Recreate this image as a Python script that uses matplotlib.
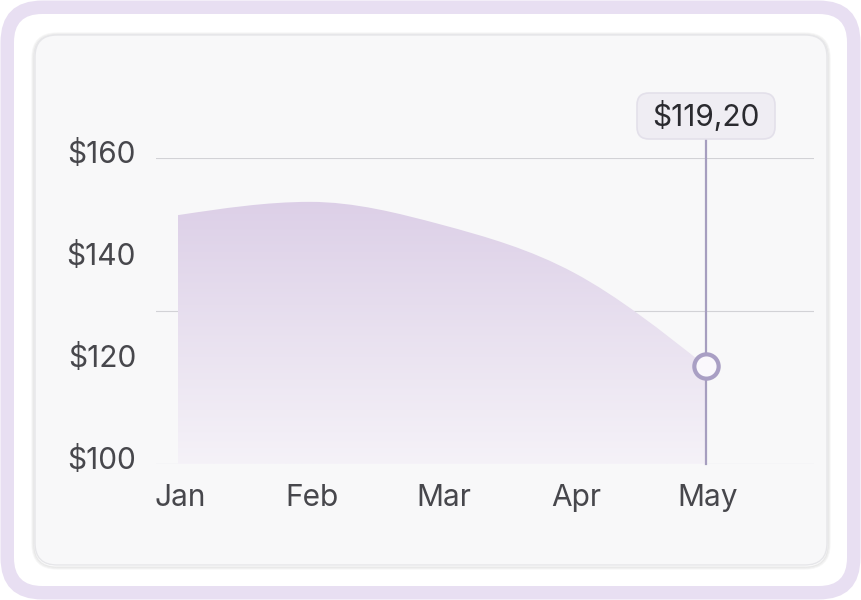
import numpy as np
import matplotlib
matplotlib.use("Agg")
import matplotlib.pyplot as plt
from matplotlib.patches import FancyBboxPatch, PathPatch
from matplotlib.path import Path
from matplotlib.colors import LinearSegmentedColormap

plt.rcParams['font.family'] = ['Inter', 'DejaVu Sans']

months = ['Jan', 'Feb', 'Mar', 'Apr', 'May']
prices = [148.8, 151.4, 146.9, 137.5, 119.2]
ytick_vals = [100, 120, 140, 160]
ytick_labels = ['$100', '$120', '$140', '$160']
grid_vals = [100, 130, 160]
tooltip_label = '$119,20'

W, H = 861, 600
fig = plt.figure(figsize=(W / 100, H / 100), dpi=100, facecolor='white')

# background frame in pixel coordinates
bg = fig.add_axes([0, 0, 1, 1])
bg.set_xlim(0, W)
bg.set_ylim(H, 0)
bg.axis('off')
bg.add_patch(FancyBboxPatch((0.5, 0.5), W - 1, H - 1, boxstyle='round,pad=0,rounding_size=42',
                            fc='#E8DFF2', ec='none'))
bg.add_patch(FancyBboxPatch((14, 14), W - 28, H - 28, boxstyle='round,pad=0,rounding_size=28',
                            fc='white', ec='none'))
for grow, a in [(3, 0.03), (2, 0.05), (1, 0.07)]:
    bg.add_patch(FancyBboxPatch((35 - grow, 35 - grow + 1), 792 + 2 * grow, 530 + 2 * grow,
                                boxstyle='round,pad=0,rounding_size=%d' % (22 + grow),
                                fc='none', ec=(0, 0, 0, a), lw=1))
bg.add_patch(FancyBboxPatch((35, 35), 792, 530, boxstyle='round,pad=0,rounding_size=22',
                            fc='#F8F8F9', ec='#E6E6E9', lw=1))

# main chart axes
left, right, top, bottom = 156, 814, 158, 464
ax = fig.add_axes([left / W, (H - bottom) / H, (right - left) / W, (bottom - top) / H])
ax.set_facecolor('none')
x = np.arange(len(months), dtype=float)
ax.set_xlim(-22 / 132, 4 + 108 / 132)
ax.set_ylim(100, 160)
for s in ax.spines.values():
    s.set_visible(False)
ax.set_xticks([])
ax.set_yticks([])

for g in grid_vals:
    ax.axhline(g, color='#D2D2D6', lw=0.8, zorder=1)

# monotone cubic curve (d3 monotoneX style) built as bezier path
y = np.array(prices)
h = np.diff(x)
s = np.diff(y) / h
m = np.zeros(len(x))
for i in range(1, len(x) - 1):
    p = (s[i - 1] * h[i] + s[i] * h[i - 1]) / (h[i - 1] + h[i])
    m[i] = (np.sign(s[i - 1]) + np.sign(s[i])) * min(abs(s[i - 1]), abs(s[i]), 0.5 * abs(p))
m[0] = (3 * s[0] - m[1]) / 2
m[-1] = (3 * s[-1] - m[-2]) / 2

verts = [(x[0], 100), (x[0], y[0])]
codes = [Path.MOVETO, Path.LINETO]
for i in range(len(x) - 1):
    dx = h[i] / 3
    verts += [(x[i] + dx, y[i] + dx * m[i]), (x[i + 1] - dx, y[i + 1] - dx * m[i + 1]), (x[i + 1], y[i + 1])]
    codes += [Path.CURVE4] * 3
verts += [(x[-1], 100), (x[0], 100)]
codes += [Path.LINETO, Path.CLOSEPOLY]
area = PathPatch(Path(verts, codes), fc='none', ec='none')
ax.add_patch(area)

cmap = LinearSegmentedColormap.from_list('fade', ['#F5F2F8', '#DCCFE7'])
grad = np.linspace(0, 1, 256).reshape(-1, 1)
im = ax.imshow(grad, cmap=cmap, aspect='auto', origin='lower',
               extent=[x[0], x[-1], 100, 152], zorder=2)
im.set_clip_path(area)

# labels
fs = 21.5
for v, lab in zip(ytick_vals, ytick_labels):
    ax.annotate(lab, xy=(0, v), xycoords=('axes fraction', 'data'), xytext=(-20, -4.5),
                textcoords='offset pixels', ha='right', va='baseline', fontsize=fs,
                color='#47474C', annotation_clip=False)
for xi, lab in zip(x, months):
    ax.annotate(lab, xy=(xi, 0), xycoords=('data', 'axes fraction'), xytext=(2, -42),
                textcoords='offset pixels', ha='center', va='baseline', fontsize=fs,
                color='#47474C', annotation_clip=False)

# highlight on last point
px, py = ax.transData.transform((x[-1], y[-1]))
_, pbase = ax.transData.transform((x[-1], 100))
px, py, pbase = px, H - py, H - pbase

ov = fig.add_axes([0, 0, 1, 1])
ov.set_xlim(0, W)
ov.set_ylim(H, 0)
ov.axis('off')
box_w, box_h = 138, 46
box_bottom = 139
ov.plot([px, px], [pbase, box_bottom], color='#A69EBF', lw=1.6, zorder=3)
ov.plot([px], [py], 'o', ms=17.5, mew=3, mec='#A99FC4', mfc='#FAF8FC', zorder=4)
ov.add_patch(FancyBboxPatch((px - box_w / 2, box_bottom - box_h), box_w, box_h,
                            boxstyle='round,pad=0,rounding_size=12',
                            fc='#EFEDF3', ec='#E3E0EA', lw=1.2, zorder=5))
ov.text(px, box_bottom - 13, tooltip_label, ha='center', va='baseline', fontsize=fs,
        color='#2A2A2F', zorder=6)

fig.savefig('out.png', dpi=100)
